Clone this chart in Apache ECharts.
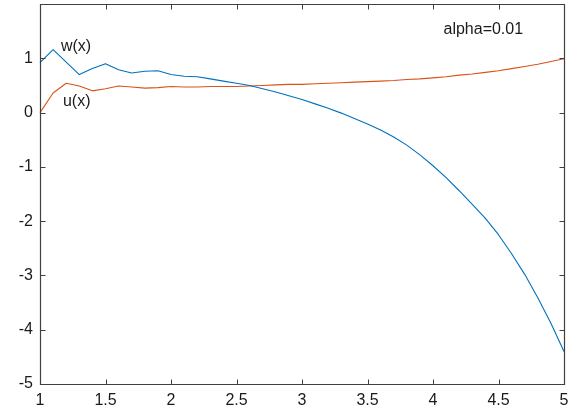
<!DOCTYPE html>
<html><head><meta charset="utf-8">
<script src="https://cdn.jsdelivr.net/npm/echarts@6/dist/echarts.min.js"></script>
<style>html,body{margin:0;padding:0;background:#fff}#c{width:581px;height:410px}</style>
</head><body><div id="c"></div>
<script>
const xValues = [1.0,1.1,1.2,1.3,1.4,1.5,1.6,1.7,1.8,1.9,2.0,2.1,2.2,2.3,2.4,2.5,2.6,2.7,2.8,2.9,3.0,3.1,3.2,3.3,3.4,3.5,3.6,3.7,3.8,3.9,4.0,4.1,4.2,4.3,4.4,4.5,4.6,4.7,4.8,4.9,5.0];
const wValues = [0.92,1.16,0.93,0.70,0.81,0.90,0.79,0.73,0.76,0.77,0.70,0.67,0.66,0.62,0.58,0.54,0.50,0.44,0.38,0.31,0.24,0.16,0.08,-0.01,-0.11,-0.21,-0.32,-0.45,-0.60,-0.78,-0.98,-1.20,-1.44,-1.69,-1.95,-2.25,-2.60,-2.98,-3.41,-3.88,-4.40];
const uValues = [0.00,0.36,0.54,0.49,0.40,0.44,0.49,0.47,0.45,0.46,0.48,0.47,0.47,0.48,0.48,0.48,0.49,0.50,0.51,0.52,0.52,0.53,0.54,0.55,0.56,0.57,0.58,0.59,0.61,0.62,0.64,0.66,0.69,0.71,0.74,0.77,0.81,0.85,0.89,0.94,0.99];
const xTicks = [1,1.5,2,2.5,3,3.5,4,4.5,5];
const xTickLabels = ['1','1.5','2','2.5','3','3.5','4','4.5','5'];
const yTicks = [-5,-4,-3,-2,-1,0,1];
const yTickLabels = ['-5','-4','-3','-2','-1','0','1'];
const annotationTexts = ['w(x)','u(x)','alpha=0.01'];
const annotationX = [1.16, 1.175, 4.08];
const annotationY = [1.21, 0.21, 1.52];

const FONT = "'Liberation Sans', Arial, sans-serif";
const AX = '#404040';
const X_MIN = 1, X_MAX = 5, Y_MIN = -5, Y_MAX = 2;
const chart = echarts.init(document.getElementById('c'), null, {renderer:'canvas'});
const pair = (xs, ys) => xs.map((x,i)=>[x, ys[i]]);
const xIdx = v => xTicks.findIndex(t => Math.abs(t - v) < 1e-6);
const yIdx = v => yTicks.findIndex(t => Math.abs(t - v) < 1e-6);
const option = {
  animation:false,
  backgroundColor:'#fff',
  grid:{left:40, right:17, top:4, bottom:26, containLabel:false},
  xAxis:{type:'value', min:X_MIN, max:X_MAX, interval:0.5,
     axisLine:{show:false, onZero:false}, axisTick:{show:false},
     axisLabel:{show:true, color:'#1a1a1a', fontFamily:FONT, fontSize:16, margin:9,
       formatter:v=>{const i=xIdx(v); return i>=0 ? xTickLabels[i] : '';}},
     splitLine:{show:false}},
  yAxis:{type:'value', min:Y_MIN, max:Y_MAX, interval:1,
     axisLine:{show:false, onZero:false}, axisTick:{show:false},
     axisLabel:{show:true, color:'#1a1a1a', fontFamily:FONT, fontSize:16, margin:7,
       formatter:v=>{const i=yIdx(v); return i>=0 ? yTickLabels[i] : '';}},
     splitLine:{show:false}},
  series:[
    {name:'w(x)', type:'line', data:pair(xValues,wValues), showSymbol:false, symbol:'none',
     lineStyle:{color:'#0072BD', width:1.1}, itemStyle:{color:'#0072BD'}, z:3},
    {name:'u(x)', type:'line', data:pair(xValues,uValues), showSymbol:false, symbol:'none',
     lineStyle:{color:'#D95319', width:1.1}, itemStyle:{color:'#D95319'}, z:2}
  ]
};
chart.setOption(option);
const px = (x,y) => chart.convertToPixel({xAxisIndex:0, yAxisIndex:0}, [x,y]);
const g = [];
const tl = px(X_MIN, Y_MAX), br = px(X_MAX, Y_MIN);
const L = Math.round(tl[0]) + 0.5, T = Math.round(tl[1]) + 0.5, R = Math.round(br[0]) + 0.5, B = Math.round(br[1]) + 0.5;
const ls = {stroke:AX, lineWidth:1};
g.push({type:'rect', shape:{x:L, y:T, width:R-L, height:B-T}, style:{fill:null, stroke:AX, lineWidth:1.2}, z:10, silent:true});
const TICK = 5;
xTicks.forEach(v=>{
  const x = Math.round(px(v, 0)[0]) + 0.5;
  g.push({type:'line', shape:{x1:x, y1:B, x2:x, y2:B-TICK}, style:ls, z:10, silent:true});
  g.push({type:'line', shape:{x1:x, y1:T, x2:x, y2:T+TICK}, style:ls, z:10, silent:true});
});
yTicks.forEach(v=>{
  const y = Math.round(px(X_MIN, v)[1]) + 0.5;
  g.push({type:'line', shape:{x1:L, y1:y, x2:L+TICK, y2:y}, style:ls, z:10, silent:true});
  g.push({type:'line', shape:{x1:R, y1:y, x2:R-TICK, y2:y}, style:ls, z:10, silent:true});
});
annotationTexts.forEach((t,i)=>{
  const p = px(annotationX[i], annotationY[i]);
  g.push({type:'text', x:p[0], y:p[1], style:{text:t, fill:'#1a1a1a', font:"16px " + FONT, textAlign:'left', textVerticalAlign:'middle'}, z:10});
});
chart.setOption({graphic:g});
</script></body></html>
